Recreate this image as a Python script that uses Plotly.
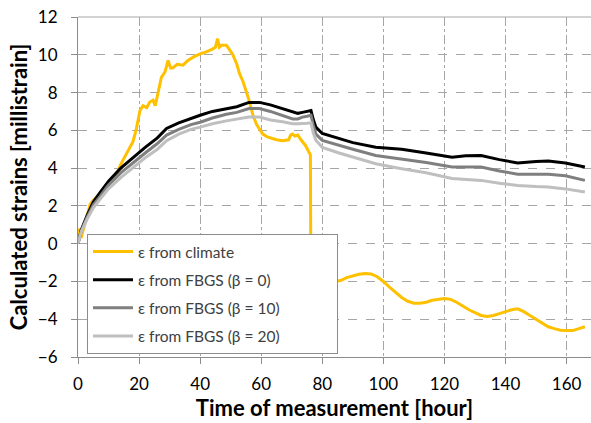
import plotly.graph_objects as go

# ---- data ----
t_climate = [0, 0.5, 1, 1.5, 2, 3, 4, 5, 6, 7, 9.4, 11, 12.6, 14, 16, 18, 19, 20.3, 21.3, 22.5, 23.5, 24.6, 25.3, 26, 27.3, 28.5, 29.5, 30.3, 31, 32.5, 34.4, 36, 38, 40, 42, 44, 45, 45.7, 46.3, 47, 48.6, 49.5, 50.7, 52, 52.9, 54, 55, 56, 57.3, 58.5, 60.5, 62, 65, 67, 69, 69.6, 70.3, 71, 72, 73, 74.5, 75.8, 76.1, 76.3, 76.6, 77, 77.5, 78, 80, 82, 84, 86, 88, 90, 92, 94, 96, 98, 100, 102, 104, 106, 108, 110, 112, 114, 116, 118, 120, 122, 124, 126, 128, 130, 132, 134, 136, 138, 140, 142, 144, 146, 148, 150, 152, 154, 156, 158, 160, 162, 164, 166]
e_climate = [0.5, 0.8, 0.3, 0.6, 1.0, 1.6, 2.1, 2.3, 2.45, 2.6, 3.0, 3.3, 3.7, 4.2, 4.8, 5.4, 6.0, 7.05, 7.3, 7.2, 7.5, 7.6, 7.3, 7.8, 8.8, 9.1, 9.7, 9.3, 9.3, 9.5, 9.45, 9.7, 9.9, 10.05, 10.15, 10.3, 10.4, 10.85, 10.4, 10.5, 10.5, 10.3, 10.0, 9.5, 9.0, 8.6, 8.1, 7.6, 6.8, 6.3, 5.8, 5.65, 5.5, 5.45, 5.5, 5.75, 5.8, 5.7, 5.75, 5.5, 5.2, 4.8, 4.7, -3.3, -2.6, -2.5, -2.4, -2.3, -2.15, -2.1, -2.0, -1.95, -1.8, -1.7, -1.62, -1.58, -1.6, -1.75, -2.0, -2.3, -2.6, -2.85, -3.05, -3.15, -3.15, -3.1, -3.0, -2.95, -2.9, -2.95, -3.1, -3.3, -3.5, -3.65, -3.8, -3.85, -3.8, -3.7, -3.6, -3.5, -3.45, -3.6, -3.8, -4.0, -4.2, -4.4, -4.5, -4.58, -4.6, -4.6, -4.5, -4.4]

t_fbgs = [0, 1, 3, 5, 7.2, 10, 14, 18, 22, 26, 29, 33, 37, 40, 44, 48.6, 52, 56, 59.4, 63, 67, 70.3, 72, 73.5, 75, 76.3, 77, 77.9, 80, 85.5, 90, 97.5, 106, 114, 122.5, 127, 132, 138, 144, 150, 154, 159.6, 163, 166]
e_beta0 = [0, 0.7, 1.5, 2.2, 2.7, 3.3, 4.0, 4.57, 5.1, 5.6, 6.1, 6.4, 6.65, 6.8, 7.0, 7.15, 7.25, 7.48, 7.48, 7.35, 7.15, 6.95, 6.9, 6.95, 7.0, 7.05, 6.6, 6.17, 5.83, 5.56, 5.35, 5.1, 5.0, 4.8, 4.58, 4.65, 4.67, 4.45, 4.27, 4.35, 4.37, 4.27, 4.15, 4.06]
e_beta10 = [0, 0.65, 1.4, 2.05, 2.5, 3.1, 3.75, 4.3, 4.8, 5.3, 5.75, 6.05, 6.3, 6.43, 6.65, 6.85, 6.95, 7.15, 7.15, 7.0, 6.8, 6.6, 6.6, 6.7, 6.75, 6.8, 6.3, 5.8, 5.47, 5.2, 5.0, 4.67, 4.5, 4.3, 4.06, 4.06, 4.06, 3.85, 3.68, 3.68, 3.68, 3.6, 3.48, 3.35]
e_beta20 = [0, 0.6, 1.3, 1.9, 2.35, 2.9, 3.5, 4.05, 4.55, 5.0, 5.45, 5.8, 6.05, 6.17, 6.35, 6.5, 6.6, 6.7, 6.7, 6.55, 6.45, 6.35, 6.35, 6.35, 6.38, 6.4, 5.9, 5.47, 5.1, 4.8, 4.6, 4.23, 3.97, 3.75, 3.45, 3.4, 3.35, 3.2, 3.08, 3.02, 3.0, 2.9, 2.82, 2.73]

names = ["ε from climate", "ε from FBGS (β = 0)", "ε from FBGS (β = 10)", "ε from FBGS (β = 20)"]
colors = ["#FFC000", "#000000", "#7F7F7F", "#BFBFBF"]

x_ticks = [0, 20, 40, 60, 80, 100, 120, 140, 160]
y_ticks = [-6, -4, -2, 0, 2, 4, 6, 8, 10, 12]

FONT = "Lato"
PAD = "\u00a0" * 13

fig = go.Figure()
series = [(t_climate, e_climate), (t_fbgs, e_beta0), (t_fbgs, e_beta10), (t_fbgs, e_beta20)]
for i, ((xs, ys), nm, c) in enumerate(zip(series, names, colors)):
    fig.add_trace(go.Scatter(x=xs, y=ys, mode="lines", name=nm + PAD,
                             line=dict(color=c, width=3), legendgroup=str(i)))

fig.update_layout(
    width=591, height=423,
    margin=dict(l=78, r=0, t=17, b=66),
    paper_bgcolor="white", plot_bgcolor="white",
    font=dict(family=FONT, size=17, color="#000000"),
    showlegend=True,
    legend=dict(x=0.0175, y=0.362, xanchor="left", yanchor="top",
                bgcolor="white", bordercolor="#8C8C8C", borderwidth=1,
                font=dict(family=FONT, size=15.5, color="#404040"),
                tracegroupgap=5, itemwidth=40),
    xaxis=dict(range=[0, 168], tickvals=x_ticks, ticks="outside", ticklen=6,
               tickcolor="#8C8C8C", showline=True, linecolor="#8C8C8C", linewidth=1,
               showgrid=True, gridcolor="#A6A6A6", griddash="dashdot", gridwidth=1,
               zeroline=False, automargin=False, ticklabelstandoff=6,
               title=dict(text="<b>Time of measurement [hour]</b>", font=dict(size=22), standoff=1),
               tickfont=dict(size=17)),
    yaxis=dict(range=[-6, 12], tickvals=y_ticks, ticks="outside", ticklen=6,
               tickcolor="#8C8C8C", showline=True, linecolor="#8C8C8C", linewidth=1,
               showgrid=True, gridcolor="#A6A6A6", griddash="dash", gridwidth=1,
               zeroline=False, automargin=False, ticklabelstandoff=10,
               title=dict(text="<b>Calculated strains [millistrain]</b>", font=dict(size=22), standoff=4),
               tickfont=dict(size=17)),
)
fig.add_shape(type="line", xref="paper", yref="paper", x0=0, x1=1, y0=1, y1=1,
              line=dict(color="#A6A6A6", width=1))

fig.write_html("out.html", config={"displayModeBar": False},
               post_script="document.body.style.margin='0';document.body.style.padding='0';")
